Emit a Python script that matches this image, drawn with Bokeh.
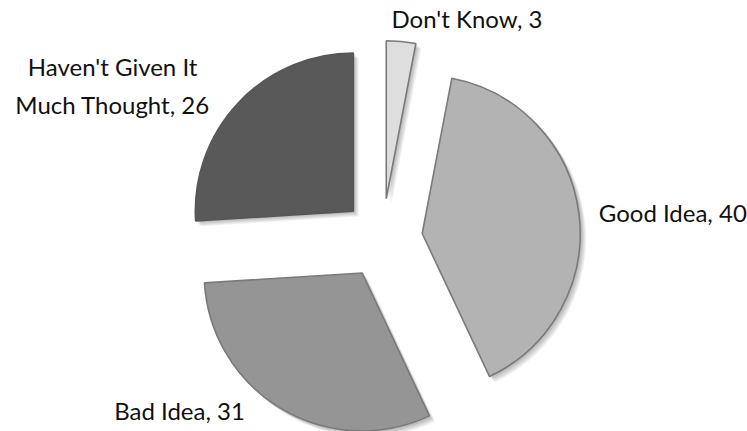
import math
from bokeh.plotting import figure
from bokeh.models import ColumnDataSource, Range1d
from bokeh.core.properties import value
from bokeh.embed import file_html
from bokeh.resources import INLINE

# ---- data ----
categories = ["Don't Know", "Good Idea", "Bad Idea", "Haven't Given It\nMuch Thought"]
values = [3, 40, 31, 26]

# ---- styles / layout ----
colors = ["#dedede", "#b3b3b3", "#959595", "#595959"]
outlines = ["#7a7a7a", "#7a7a7a", "#7a7a7a", "#575757"]
W, H = 747, 431
CX, CY = 382, H - 238
R = 158
EXPLODE = 40
LABEL_PAD = 20
label_align = ["center", "left", "center", "center"]
label_nudge = [(64, 3), (0, -1), (-92, 16), (-111, 4)]

total = float(sum(values))
starts, ends, xs, ys, lx, ly = [], [], [], [], [], []
cum = 0.0
for i, v in enumerate(values):
    f0 = cum / total
    f1 = (cum + v) / total
    cum += v
    a_end = math.pi / 2 - 2 * math.pi * f0
    a_start = math.pi / 2 - 2 * math.pi * f1
    mid = (a_start + a_end) / 2
    cx = CX + EXPLODE * math.cos(mid)
    cy = CY + EXPLODE * math.sin(mid)
    starts.append(a_start)
    ends.append(a_end)
    xs.append(cx)
    ys.append(cy)
    lx.append(cx + (R + LABEL_PAD) * math.cos(mid) + label_nudge[i][0])
    ly.append(cy + (R + LABEL_PAD) * math.sin(mid) + label_nudge[i][1])

labels = [f"{c}, {v}" for c, v in zip(categories, values)]

src = ColumnDataSource(dict(x=xs, y=ys, start=starts, end=ends, color=colors,
                            line=outlines))

p = figure(width=W, height=H, output_backend="svg", toolbar_location=None,
           x_range=Range1d(0, W), y_range=Range1d(0, H), min_border=0)
p.axis.visible = False
p.grid.visible = False
p.outline_line_color = None
p.background_fill_color = "white"

# soft drop shadow
for k in range(1, 7):
    sh = ColumnDataSource(dict(x=[x + k * 0.9 for x in xs], y=[y - k * 0.9 for y in ys],
                               start=starts, end=ends))
    p.wedge(x="x", y="y", radius=R + 0.5, start_angle="start", end_angle="end",
            source=sh, fill_color="black", fill_alpha=0.05, line_color=None)

p.wedge(x="x", y="y", radius=R, start_angle="start", end_angle="end",
        source=src, fill_color="color", line_color="line", line_width=1.6)

for i in range(len(labels)):
    p.text(x=[lx[i]], y=[ly[i]], text=[labels[i]], text_align=label_align[i],
           text_baseline="middle", text_font=value("Lato"), text_font_size="24px",
           text_color="#111111", text_line_height=1.3)

open("out.html", "w").write(file_html(p, INLINE))
